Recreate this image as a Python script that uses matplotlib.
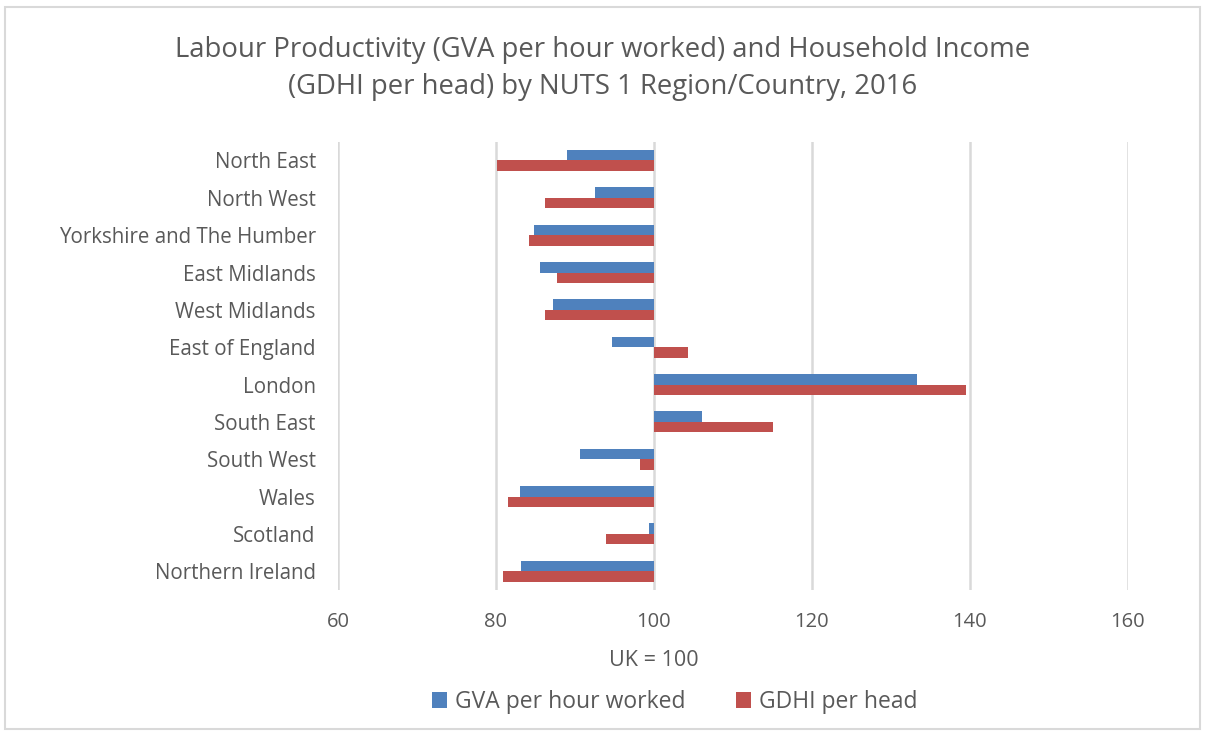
import numpy as np
import matplotlib.pyplot as plt
from matplotlib.patches import Rectangle

# values (UK = 100)
regions = ["North East", "North West", "Yorkshire and The Humber", "East Midlands",
           "West Midlands", "East of England", "London", "South East", "South West",
           "Wales", "Scotland", "Northern Ireland"]
gva = [89.0, 92.5, 84.8, 85.6, 87.2, 94.7, 133.3, 106.1, 90.6, 83.0, 99.4, 83.2]
gdhi = [80.1, 86.2, 84.2, 87.7, 86.2, 104.3, 139.5, 115.1, 98.2, 81.5, 93.9, 80.9]
xticks = [60, 80, 100, 120, 140, 160]

BLUE = "#4f81bd"
RED = "#c0504d"
GREY = "#595959"

plt.rcParams['font.family'] = ['Open Sans', 'DejaVu Sans']

fig = plt.figure(figsize=(12.05, 7.31), dpi=100)
ax = fig.add_axes([0.2805, 0.193, 0.6555, 0.613])

y = np.arange(len(regions))
h = 0.28
base = 100
ax.barh(y - h / 2, np.array(gva) - base, left=base, height=h, color=BLUE,
        label="GVA per hour worked", zorder=3)
ax.barh(y + h / 2, np.array(gdhi) - base, left=base, height=h, color=RED,
        label="GDHI per head", zorder=3)

ax.set_xlim(60, 160)
ax.set_ylim(len(regions) - 0.5, -0.5)
ax.set_xticks(xticks)
ax.set_yticks(y)
ax.set_yticklabels(regions)
ax.tick_params(axis='x', length=0, labelsize=14.5, colors=GREY, pad=16)
ax.tick_params(axis='y', length=0, labelsize=14.8, colors=GREY, pad=16)
ax.grid(axis='x', color="#d9d9d9", linewidth=1.8, zorder=0)
for s in ax.spines.values():
    s.set_visible(False)

ax.set_xlabel("UK = 100", fontsize=15.5, color=GREY)
ax.xaxis.set_label_coords(0.4, -0.135)

fig.suptitle("Labour Productivity (GVA per hour worked) and Household Income\n"
             "(GDHI per head) by NUTS 1 Region/Country, 2016",
             y=0.951, fontsize=19.8, color=GREY, linespacing=1.45)

fig.legend(loc='center', bbox_to_anchor=(0.56, 0.04), ncol=2, frameon=False,
           fontsize=16.5, labelcolor=GREY, handlelength=0.65, handleheight=0.7,
           handletextpad=0.35, columnspacing=2.2)

fig.patches.append(Rectangle((0.004, 0.003), 0.992, 0.988, transform=fig.transFigure,
                             fill=False, edgecolor="#d9d9d9", linewidth=1.5))

fig.savefig("out.png", dpi=100)
